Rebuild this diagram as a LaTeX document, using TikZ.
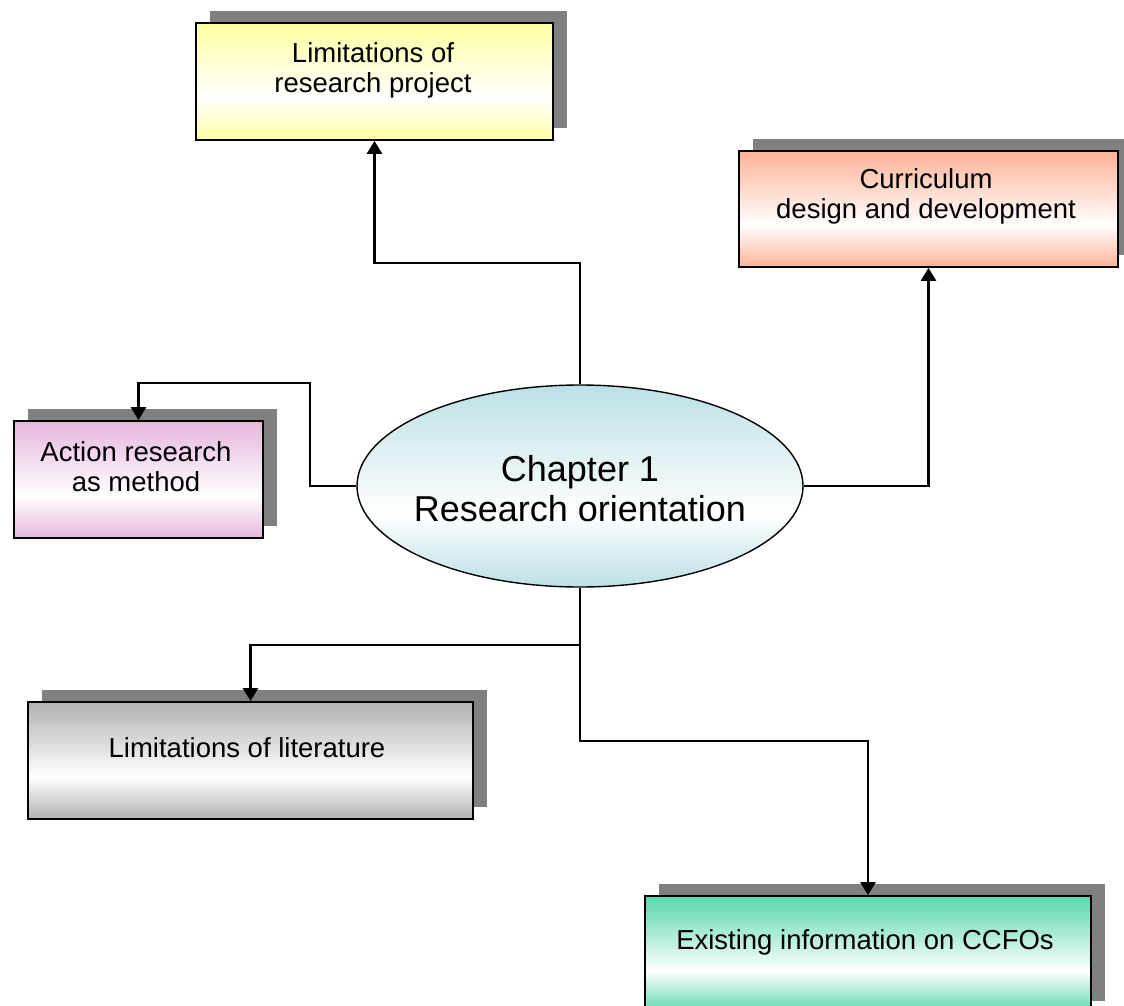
\documentclass[tikz,border=0pt]{standalone}
\usepackage{fontspec}
\setmainfont{Liberation Sans}
\usetikzlibrary{arrows.meta,shapes.geometric,shadows}
\definecolor{cyellow}{RGB}{255,255,160}
\definecolor{csalmon}{RGB}{255,178,150}
\definecolor{cpink}{RGB}{230,182,220}
\definecolor{cblue}{RGB}{188,224,230}
\definecolor{cgray}{RGB}{178,178,178}
\definecolor{cgreen}{RGB}{88,214,174}
\definecolor{cshadow}{RGB}{128,128,128}
\colorlet{cA}{cyellow}
\pgfdeclareverticalshading[cA]{bandshade}{100bp}{color(0bp)=(cA); color(25bp)=(cA); color(43bp)=(white); color(75bp)=(cA); color(100bp)=(cA)}
\tikzset{
  boxshape/.style={draw=black, line width=1.8pt, rectangle, inner sep=0pt,
    minimum height=117pt,
    drop shadow={shadow xshift=14pt, shadow yshift=12pt, opacity=1, fill=cshadow},
    /utils/exec={\colorlet{cA}{#1}}, shading=bandshade},
  boxtext/.style={align=center, font=\fontsize{27.5}{30}\selectfont, inner sep=0pt},
  conn/.style={line width=2.6pt, -{Triangle[length=13pt,width=15pt]}},
  link/.style={line width=2.6pt}
}
\begin{document}
\begin{tikzpicture}[x=1pt,y=-1pt]
\useasboundingbox (0,0) rectangle (1124,1005);
% boxes
\node[boxshape=cyellow, minimum width=357pt] (b1) at (374.5,81.5) {};
\node[boxshape=csalmon, minimum width=379pt, minimum height=116pt] (b2) at (928.5,209) {};
\node[boxshape=cpink, minimum width=249pt] (b3) at (138.5,479.5) {};
\node[boxshape=cgray, minimum width=445pt] (b4) at (250.5,760.5) {};
\node[boxshape=cgreen, minimum width=446pt] (b5) at (868,954.5) {};
% ellipse
\node[ellipse, draw=black, line width=1.4pt, minimum width=446pt, minimum height=202pt,
  inner sep=0pt, /utils/exec={\colorlet{cA}{cblue}}, shading=bandshade] (e) at (580,486) {};
% texts
\node[boxtext] (t1) at (373,70) {Limitations of\\research project};
\node[boxtext] (t2) at (926,196) {Curriculum\\design and development};
\node[boxtext] (t3) at (136,467) {Action research\\as method};
\node[boxtext] (t4) at (247,748) {Limitations of literature};
\node[boxtext] (t5) at (865,942) {Existing information on CCFOs};
\node[align=center, font=\fontsize{36}{40}\selectfont, inner sep=0pt] (te) at (580,489) {Chapter 1\\Research orientation};
% connectors
\coordinate (c1) at (580,263);
\coordinate (c3a) at (310,486);
\coordinate (c3b) at (310,383);
\coordinate (j) at (580,645);
\coordinate (j2) at (580,741);
\draw[conn] (e.north) -- (c1) -| (b1.south);
\draw[conn] (e.east) -| (b2.south);
\draw[conn] (e.west) -- (c3a) -- (c3b) -| (b3.north);
\draw[link] (e.south) -- (j);
\draw[conn] (j) -| (b4.north);
\draw[conn] (j) -- (j2) -| (b5.north);
\end{tikzpicture}
\end{document}
